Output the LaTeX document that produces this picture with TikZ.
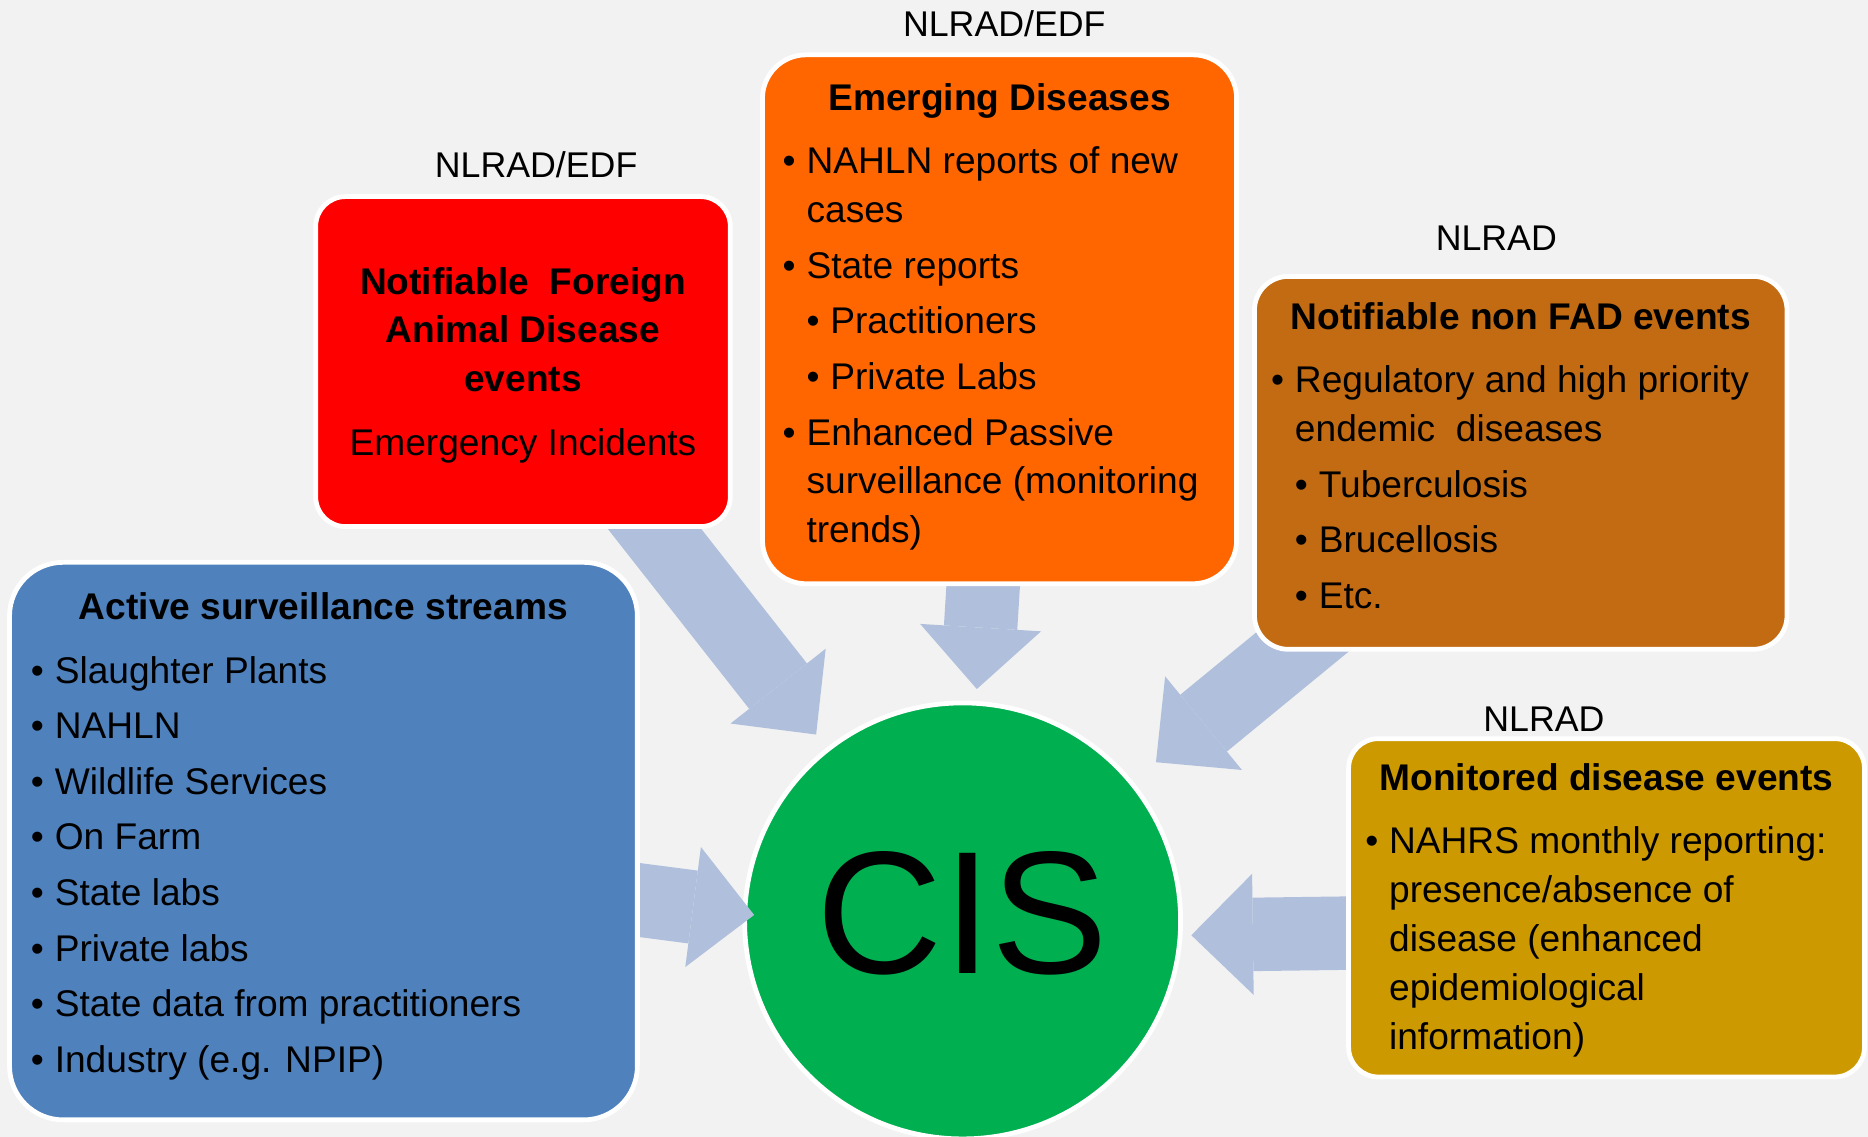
\documentclass[tikz,border=0pt]{standalone}
\usepackage{fontspec}
\setmainfont{Liberation Sans}
\usepackage{tikz}
\usetikzlibrary{calc}
\usetikzlibrary{arrows.meta}
\definecolor{bggray}{HTML}{F2F2F2}
\definecolor{flowblue}{HTML}{B0C0DC}
\definecolor{activeblue}{HTML}{4F81BD}
\definecolor{fadred}{HTML}{FF0000}
\definecolor{emergorange}{HTML}{FF6600}
\definecolor{nonfadbrown}{HTML}{C26B12}
\definecolor{monitgold}{HTML}{CC9900}
\definecolor{cisgreen}{HTML}{00B050}
\tikzset{box/.style={rectangle,rounded corners=#1,draw=white,line width=2.4pt,inner sep=0pt,text=black}}
\tikzset{box/.default=15pt}
\tikzset{flow/.style={draw=flowblue,line width=37pt,-{Triangle[width=61pt,length=31pt,line width=0pt]}}}
\tikzset{tag/.style={font=\fontsize{18pt}{22pt}\selectfont,inner sep=0pt}}
\pgfdeclarelayer{back}
\pgfdeclarelayer{flows}
\pgfsetlayers{back,flows,main}
\newcommand{\hd}[1]{{\centering\bfseries #1\par}\vspace{4pt}}
\newcommand{\bitem}[1]{\hangindent=12pt\hangafter=1\noindent\makebox[12pt][l]{\textbullet}#1\par}
\newcommand{\sbitem}[1]{\hangindent=24pt\hangafter=1\noindent\hspace*{12pt}\makebox[12pt][l]{\textbullet}#1\par}
% optional arg: extra space on top (negative lifts the text)
\newenvironment{boxtext}[2][0pt]{\begin{minipage}{#2}\vspace*{#1}\fontsize{18.7pt}{24.6pt}\selectfont\setlength{\parskip}{3.4pt}\rightskip=0pt plus 1fil\relax}{\end{minipage}}

\begin{document}
\begin{tikzpicture}[x=0.6pt,y=-0.6pt]

\clip (0,0) rectangle (1568,954);
\begin{pgfonlayer}{back}
\fill [bggray] (0,0) rectangle (1568,954);
\node [circle,fill=cisgreen,draw=white,line width=2.4pt,minimum size=219.6pt,inner sep=0pt,
       text depth=8pt,font=\fontsize{88pt}{88pt}\selectfont] (cis) at (808,773) {CIS};
\end{pgfonlayer}

% the five sources
\node [box=27pt,fill=activeblue,minimum width=316.2pt,minimum height=280.8pt] (active) at (271.5,706) {%
\begin{boxtext}[-4.8pt]{294.6pt}
\hd{Active surveillance streams}
\bitem{Slaughter Plants}
\bitem{NAHLN}
\bitem{Wildlife Services}
\bitem{On Farm}
\bitem{State labs}
\bitem{Private labs}
\bitem{State data from practitioners}
\bitem{Industry (e.g. NPIP)}
\end{boxtext}};

\node [box=15pt,fill=fadred,minimum width=208.8pt,minimum height=166.2pt] (fad) at (439,303.5) {%
\begin{boxtext}[3.6pt]{200pt}
{\centering\bfseries Notifiable\ \ Foreign\\Animal Disease\\events\par}\vspace{4pt}
{\centering Emergency Incidents\par}
\end{boxtext}};

\node [box=22pt,fill=emergorange,minimum width=238.8pt,minimum height=266.4pt] (emerging) at (839,268) {%
\begin{boxtext}[-2.4pt]{218.4pt}
\hd{Emerging Diseases}
\bitem{NAHLN reports of new\newline cases}
\bitem{State reports}
\sbitem{Practitioners}
\sbitem{Private Labs}
\bitem{Enhanced Passive\newline surveillance (monitoring\newline trends)}
\end{boxtext}};

\node [box=17pt,fill=nonfadbrown,minimum width=268.2pt,minimum height=187.8pt] (nonfad) at (1276.5,388.5) {%
\begin{boxtext}[-7.2pt]{251.4pt}
\hd{Notifiable non FAD events}
\bitem{Regulatory and high priority\newline endemic\ \ diseases}
\sbitem{Tuberculosis}
\sbitem{Brucellosis}
\sbitem{Etc.}
\end{boxtext}};

\node [box=15pt,fill=monitgold,minimum width=259.8pt,minimum height=170.4pt] (monitored) at (1348.5,762) {%
\begin{boxtext}[2.4pt]{243pt}
\hd{Monitored disease events}
\bitem{NAHRS monthly reporting:\newline presence/absence of\newline disease (enhanced\newline epidemiological\newline information)}
\end{boxtext}};

\node [tag] (tag-emerging) at (843,20) {NLRAD/EDF};
\node [tag] (tag-fad) at (450,138) {NLRAD/EDF};
\node [tag] (tag-nonfad) at (1256,200) {NLRAD};
\node [tag] (tag-monitored) at (1296,604) {NLRAD};

\coordinate (active-out) at (510,752);
\coordinate (active-in) at (633,768);
\coordinate (monitored-out) at (1150,783);
\coordinate (monitored-in) at (1000,785);

% block arrows into CIS
\begin{pgfonlayer}{flows}
\draw [flow] (fad.center) -- ($(cis.center)!119.4pt!(fad.center)$);
\draw [flow] (emerging.center) -- ($(cis.center)!117pt!(emerging.center)$);
\draw [flow] (nonfad.center) -- ($(cis.center)!126pt!(nonfad.center)$);
\draw [flow] (active-out) -- (active-in);
\draw [flow] (monitored-out) -- (monitored-in);
\end{pgfonlayer}

\end{tikzpicture}
\end{document}
